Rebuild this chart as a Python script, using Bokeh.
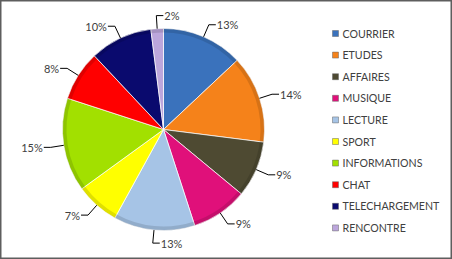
import math
from bokeh.plotting import figure
from bokeh.models import ColumnDataSource
from bokeh.core.properties import value
from bokeh.embed import file_html
from bokeh.resources import INLINE

categories = ["COURRIER", "ETUDES", "AFFAIRES", "MUSIQUE", "LECTURE",
              "SPORT", "INFORMATIONS", "CHAT", "TELECHARGEMENT", "RENCONTRE"]
percents = [13, 14, 9, 9, 13, 7, 15, 8, 10, 2]
colors = ["#3A72BC", "#F5821A", "#4E4A32", "#E0107A", "#A6C4E6",
          "#FFFF00", "#A2E000", "#FF0000", "#0A0A6E", "#BCA6DC"]

W, H = 452, 259
cx, cy, R = 163, H - 129, 101
font = value("Lato")

p = figure(width=W, height=H, x_range=(0, W), y_range=(0, H),
           output_backend="svg", toolbar_location=None, min_border=0)
p.axis.visible = False
p.grid.visible = False
p.outline_line_color = "#5e5e5e"
p.outline_line_width = 2
p.background_fill_color = "white"

total = sum(percents)
starts, ends, mids = [], [], []
a = math.pi / 2
for v in percents:
    da = 2 * math.pi * v / total
    starts.append(a - da)
    ends.append(a)
    mids.append(a - da / 2)
    a -= da

src = ColumnDataSource(dict(start=starts, end=ends, color=colors))
p.wedge(x=cx, y=cy, radius=R, start_angle="start", end_angle="end",
        fill_color="color", line_color="white", line_alpha=0.7, line_width=1,
        source=src)
# darker rim for bevel look
p.annular_wedge(x=cx, y=cy, inner_radius=R - 4, outer_radius=R,
                start_angle="start", end_angle="end", fill_color="black",
                fill_alpha=0.12, line_color=None, source=src)

# labels with leader lines
lx, ly, tx, ty, aligns, texts = [], [], [], [], [], []
for m, v in zip(mids, percents):
    x0, y0 = cx + R * math.cos(m), cy + R * math.sin(m)
    x1, y1 = cx + 1.13 * R * math.cos(m), cy + 1.13 * R * math.sin(m)
    right = (x1 - cx) >= -12
    x2 = x1 + (7 if right else -7)
    lx.append([x0, x1, x2])
    ly.append([y0, y1, y1])
    tx.append(x2 + (1 if right else -1))
    ty.append(y1)
    aligns.append("left" if right else "right")
    texts.append(f"{v}%")
p.multi_line(xs=lx, ys=ly, line_color="black", line_width=1)
p.text(x=tx, y=ty, text=texts, text_align=aligns, text_baseline="middle",
       text_font=font, text_font_size="11px", text_color="#404040")

# legend
leg_y = [H - (33 + 21.6 * i) for i in range(len(categories))]
p.rect(x=[335] * len(categories), y=leg_y, width=6, height=6,
       fill_color=colors, line_color="#666666", line_width=0.5)
p.text(x=[342] * len(categories), y=leg_y, text=categories,
       text_baseline="middle", text_font=font, text_font_size="10.6px",
       text_color="#404040")

open("out.html", "w").write(file_html(p, INLINE))
